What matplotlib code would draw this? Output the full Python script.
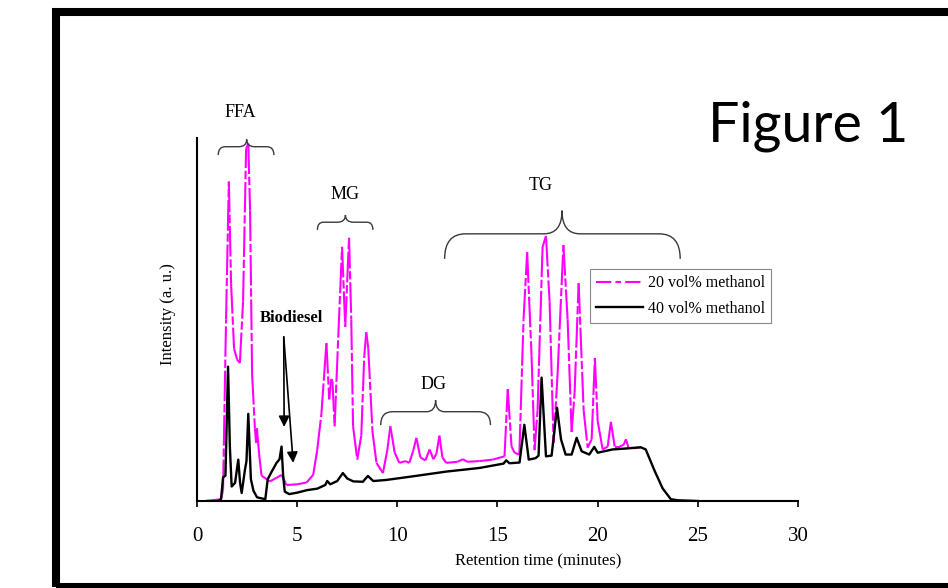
import numpy as np
import matplotlib.pyplot as plt
from matplotlib.collections import LineCollection
from matplotlib.lines import Line2D
from matplotlib.patches import Rectangle, PathPatch
from matplotlib.path import Path

plt.rcParams['lines.scale_dashes'] = False

# 40 vol% methanol trace (retention time in minutes, intensity a.u.)
t40 = [0.5, 1.05, 1.2, 1.3, 1.42, 1.55, 1.64, 1.73, 1.9, 2.06, 2.15, 2.23, 2.39,
       2.47, 2.56, 2.69, 2.82, 3.0, 3.41, 3.53, 3.72, 3.97, 4.12, 4.22, 4.3, 4.38,
       4.6, 5.0, 5.5, 6.0, 6.4, 6.5, 6.65, 7.0, 7.28, 7.5, 7.8, 8.28, 8.53, 8.8,
       9.45, 10.78, 12.44, 14.1, 15.3, 15.43, 15.6, 16.1, 16.34, 16.56, 16.9,
       17.05, 17.2, 17.42, 17.7, 17.97, 18.17, 18.4, 18.7, 18.95, 19.2, 19.58,
       19.83, 20.0, 20.74, 21.5, 22.15, 22.4, 22.82, 23.24, 23.65, 24.0, 25.0]
i40 = [0, 0, 0.5, 6.5, 7, 37, 15, 4, 5, 11.4, 5, 2.2, 8.5,
       11, 24, 6, 2.8, 1.0, 0.5, 6, 8, 10.5, 11.5, 15, 7, 2.6,
       1.9, 2.3, 3.0, 3.4, 4.4, 5.5, 4.6, 5.5, 7.7, 6.2, 5.4, 5.3, 6.9, 5.5,
       5.8, 6.8, 8.1, 9.1, 10.3, 11.2, 10.4, 10.6, 21, 11.4, 11.8,
       12.5, 34, 12.3, 12.5, 25.7, 17, 12.8, 12.8, 17.4, 13.7, 12.8,
       14.9, 13.3, 14.2, 14.5, 14.8, 14.2, 8.6, 3.5, 0.5, 0.2, 0]

# 20 vol% methanol trace
t20 = [0.5, 1.2, 1.3, 1.45, 1.59, 1.7, 1.85, 2.0, 2.14, 2.3, 2.45, 2.56, 2.65,
       2.75, 2.89, 2.95, 2.99, 3.1, 3.22, 3.64, 3.97, 4.22, 4.47, 5.0, 5.47,
       5.8, 6.0, 6.21, 6.35, 6.46, 6.6, 6.7, 6.76, 6.87, 7.05, 7.24, 7.4, 7.59,
       7.7, 7.79, 8.0, 8.2, 8.35, 8.45, 8.55, 8.76, 8.96, 9.28, 9.5, 9.65, 9.87,
       10.1, 10.4, 10.6, 10.8, 10.95, 11.15, 11.4, 11.61, 11.8, 11.95, 12.1,
       12.25, 12.44, 13.0, 13.27, 13.5, 14.1, 14.76, 15.35, 15.51, 15.7, 15.85,
       16.09, 16.3, 16.48, 16.7, 16.85, 17.0, 17.25, 17.42, 17.6, 17.8, 18.0,
       18.29, 18.5, 18.7, 18.85, 19.05, 19.3, 19.5, 19.7, 19.86, 20.0, 20.25,
       20.5, 20.66, 20.85, 21.1, 21.3, 21.41, 21.55, 21.8, 22.15]
i20 = [0, 0.5, 3, 50, 88, 60, 42, 39, 38, 55, 97, 98.5, 80,
       35, 20, 16, 20, 13, 7, 5.4, 6.4, 7.2, 4.4, 4.6, 5.1,
       7.2, 14, 24, 35, 43.5, 28, 33.6, 33, 20.6, 45, 70, 48, 72.5,
       50, 20.6, 11.4, 18, 40, 46.5, 42, 19, 10.5, 7.7, 14, 20.6, 13.3,
       10.5, 11, 10.5, 14, 17.4, 12, 11.2, 14.2, 11.5, 13, 18,
       12, 10.5, 10.8, 11.5, 10.8, 11, 11.4, 12.3, 30.8, 15, 13.3,
       12.8, 50, 68.5, 40, 14, 25, 70, 73, 55, 16, 35,
       70.5, 50, 19, 30, 60, 25, 14.7, 17, 39.4, 22, 14.2,
       15, 21.8, 15, 15, 15.5, 17, 14.5, 14.5, 14.8]

series_labels = ['20 vol% methanol', '40 vol% methanol']
x_ticks = [0, 5, 10, 15, 20, 25, 30]

serif = 'Liberation Serif'
pink = '#FF00FF'

fig = plt.figure(figsize=(9.48, 5.88), dpi=100)
ax = fig.add_axes([197 / 948, 1 - 501 / 588, 601 / 948, 363 / 588])

# pink trace as separate segments so the dash pattern restarts per segment
pts = np.column_stack([t20, i20])
segs = np.stack([pts[:-1], pts[1:]], axis=1)
ax.add_collection(LineCollection(segs, colors=pink, linewidths=1.5,
                                 linestyles=[(0, (22, 2, 6, 2))], zorder=2))
ax.plot(t40, i40, color='black', lw=1.7, zorder=3)

ax.set_xlim(0, 30)
ax.set_ylim(0, 100)
ax.set_xticks(x_ticks)
ax.set_xticklabels([str(v) for v in x_ticks], fontfamily=serif, fontsize=15)
ax.set_yticks([])
ax.tick_params(axis='x', direction='out', length=4, width=1.2, pad=15)
for s in ['top', 'right']:
    ax.spines[s].set_visible(False)
for s in ['left', 'bottom']:
    ax.spines[s].set_linewidth(1.5)

ax.text(-0.048, 0.515, 'Intensity (a. u.)', transform=ax.transAxes, rotation=90,
        ha='center', va='center', fontfamily=serif, fontsize=12)
ax.text(0.567, -0.165, 'Retention time (minutes)', transform=ax.transAxes,
        ha='center', va='center', fontfamily=serif, fontsize=12)


def brace(x0, x1, xtip, ytop, yend, ytip, rx_end, rx_tip):
    verts = [(x0, yend), (x0, ytop), (x0 + rx_end, ytop),
             (xtip - rx_tip, ytop), (xtip, ytop), (xtip, ytip),
             (xtip, ytop), (xtip + rx_tip, ytop),
             (x1 - rx_end, ytop), (x1, ytop), (x1, yend)]
    codes = [Path.MOVETO, Path.CURVE3, Path.CURVE3, Path.LINETO,
             Path.CURVE3, Path.CURVE3, Path.CURVE3, Path.CURVE3,
             Path.LINETO, Path.CURVE3, Path.CURVE3]
    ax.add_patch(PathPatch(Path(verts, codes), fill=False, edgecolor='#3a3a3a',
                           lw=1.0, clip_on=False, zorder=4))


brace(1.06, 3.84, 2.48, 97.6, 95.3, 99.6, 0.35, 0.4)
brace(6.01, 8.78, 7.41, 76.8, 74.7, 78.8, 0.3, 0.4)
brace(9.17, 14.65, 11.91, 24.6, 20.9, 27.8, 0.6, 0.45)
brace(12.36, 24.12, 18.22, 73.6, 66.7, 80.0, 1.05, 0.9)

lab_kw = dict(ha='center', va='center', fontfamily=serif, fontsize=13, clip_on=False)
ax.text(2.14, 106.9, 'FFA', **lab_kw)
ax.text(7.39, 84.3, 'MG', **lab_kw)
ax.text(11.8, 32.0, 'DG', **lab_kw)
ax.text(17.14, 87.0, 'TG', **lab_kw)

ax.text(4.72, 50.4, 'Biodiesel', ha='center', va='center', fontfamily=serif,
        fontsize=12, fontweight='bold')
for end in [(4.35, 20.4), (4.8, 10.5)]:
    ax.annotate('', xy=end, xytext=(4.33, 45.2),
                arrowprops=dict(arrowstyle='-|>', color='black', lw=1.2,
                                mutation_scale=16, shrinkA=0, shrinkB=0))

handles = [Line2D([], [], color=pink, lw=1.5, linestyle=(0, (11, 3, 4, 3))),
           Line2D([], [], color='black', lw=1.7)]
leg = ax.legend(handles, series_labels, loc='upper left',
                bbox_to_anchor=(0.654, 0.639), borderaxespad=0,
                prop={'family': serif, 'size': 11.5}, handlelength=2.9,
                handletextpad=0.3, labelspacing=0.6, borderpad=0.4,
                fancybox=False, framealpha=1, edgecolor='#888888')
leg.get_frame().set_linewidth(0.8)

fig.text(708 / 948, 1 - 142 / 588, 'Figure 1', ha='left', va='baseline',
         fontfamily='Lato', fontsize=40)

# slide frame
fig.add_artist(Rectangle((56 / 948, 1 - 587 / 588), 1000 / 948, 575 / 588,
                         transform=fig.transFigure, fill=False,
                         edgecolor='black', lw=5.8))

fig.savefig('out.png', dpi=100)
